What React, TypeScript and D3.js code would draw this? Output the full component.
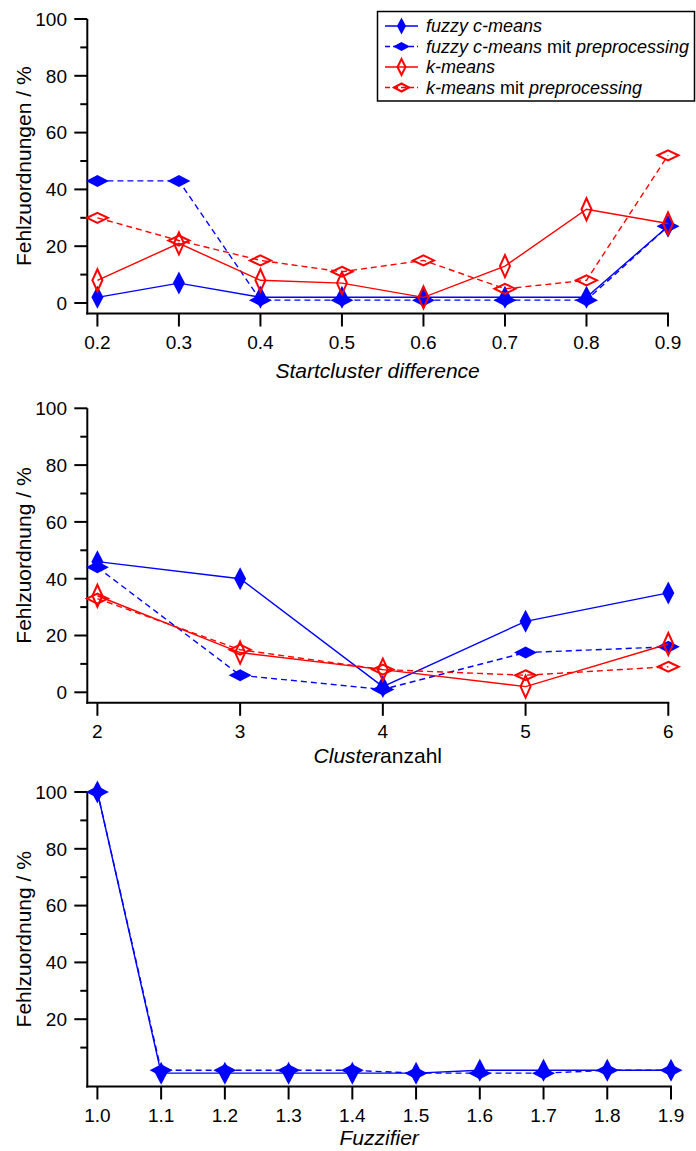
import React, { useEffect, useRef } from 'react';
import * as d3 from 'd3';

// panel 1: Startcluster difference
const startDiff = [0.2, 0.3, 0.4, 0.5, 0.6, 0.7, 0.8, 0.9];
const p1Fcm = [2, 7, 2, 2, 2, 2, 2, 27];
const p1FcmPre = [43, 43, 1, 1, 1, 1, 1, 27];
const p1Km = [8, 21, 8, 7, 2, 13, 33, 28];
const p1KmPre = [30, 22, 15, 11, 15, 5, 8, 52];

// panel 2: Clusteranzahl
const clusterCount = [2, 3, 4, 5, 6];
const p2Fcm = [46, 40, 2, 25, 35];
const p2FcmPre = [44, 6, 1, 14, 16];
const p2Km = [34, 14, 8, 2, 17];
const p2KmPre = [33, 15, 8, 6, 9];

// panel 3: Fuzzifier
const fuzzifier = [1.0, 1.1, 1.2, 1.3, 1.4, 1.5, 1.6, 1.7, 1.8, 1.9];
const p3Fcm = [100, 1, 1, 1, 1, 1, 2, 2, 2, 2];
const p3FcmPre = [100, 2, 2, 2, 2, 1, 1, 1, 2, 2];

const yMajor12 = [0, 20, 40, 60, 80, 100];
const yMajor3 = [20, 40, 60, 80, 100];
const yMinor = [10, 30, 50, 70, 90];

const BLUE = '#0000ff';
const RED = '#ff0000';
const FONT = "'Liberation Sans', Arial, sans-serif";

type Series = { values: number[]; color: string; dashed: boolean; filled: boolean };

const diamond = (w: number, h: number) =>
    `M0,${-h / 2}L${w / 2},0L0,${h / 2}L${-w / 2},0Z`;

const App = () => {
    const svgRef = useRef<SVGSVGElement>(null);

    useEffect(() => {
        document.body.style.margin = '0';
        const svg = d3.select(svgRef.current);
        svg.selectAll('*').remove();

        const panels = [
            {
                top: 19, xs: startDiff, fmt: d3.format('.1f'), xRight: 668, titleGap: 64,
                yTitle: 'Fehlzuordnungen / %', xTitle: 'Startcluster difference', xItalicAll: true,
                yMajor: yMajor12,
                series: [
                    { values: p1Fcm, color: BLUE, dashed: false, filled: true },
                    { values: p1FcmPre, color: BLUE, dashed: true, filled: true },
                    { values: p1Km, color: RED, dashed: false, filled: false },
                    { values: p1KmPre, color: RED, dashed: true, filled: false },
                ] as Series[],
            },
            {
                top: 408.3, xs: clusterCount, fmt: d3.format('d'), xRight: 668.3, titleGap: 60,
                yTitle: 'Fehlzuordnung / %', xTitle: 'Clusteranzahl', xItalicAll: false,
                yMajor: yMajor12,
                series: [
                    { values: p2Fcm, color: BLUE, dashed: false, filled: true },
                    { values: p2FcmPre, color: BLUE, dashed: true, filled: true },
                    { values: p2Km, color: RED, dashed: false, filled: false },
                    { values: p2KmPre, color: RED, dashed: true, filled: false },
                ] as Series[],
            },
            {
                top: 792, xs: fuzzifier, fmt: d3.format('.1f'), xRight: 671, titleGap: 58,
                yTitle: 'Fehlzuordnung / %', xTitle: 'Fuzzifier', xItalicAll: true,
                yMajor: yMajor3,
                series: [
                    { values: p3Fcm, color: BLUE, dashed: false, filled: true },
                    { values: p3FcmPre, color: BLUE, dashed: true, filled: true },
                ] as Series[],
            },
        ];

        const axisX = 87.3;
        const plotH = 284;

        panels.forEach(p => {
            const g = svg.append('g').attr('font-family', FONT);
            const y = d3.scaleLinear().domain([0, 100]).range([p.top + plotH, p.top]);
            const x = d3.scaleLinear().domain([p.xs[0], p.xs[p.xs.length - 1]]).range([97.4, p.xRight]);
            const axisY = y(0) + 10.5;

            // axis lines
            g.append('line').attr('x1', axisX).attr('x2', axisX)
                .attr('y1', y(100)).attr('y2', axisY + 1)
                .attr('stroke', '#000').attr('stroke-width', 2);
            g.append('line').attr('x1', axisX - 1).attr('x2', p.xRight + 1)
                .attr('y1', axisY).attr('y2', axisY)
                .attr('stroke', '#000').attr('stroke-width', 2);

            // y ticks
            g.selectAll('line.ymaj').data(p.yMajor).enter().append('line')
                .attr('x1', axisX - 13).attr('x2', axisX)
                .attr('y1', d => y(d)).attr('y2', d => y(d))
                .attr('stroke', '#000').attr('stroke-width', 2);
            g.selectAll('line.ymin').data(yMinor).enter().append('line')
                .attr('x1', axisX - 7).attr('x2', axisX)
                .attr('y1', d => y(d)).attr('y2', d => y(d))
                .attr('stroke', '#000').attr('stroke-width', 2);
            g.selectAll('text.ylab').data(p.yMajor).enter().append('text')
                .attr('x', 67).attr('y', d => y(d)).attr('dy', '0.36em')
                .attr('text-anchor', 'end').attr('font-size', 19).attr('fill', '#000')
                .text(d => String(d));

            // x ticks
            g.selectAll('line.xt').data(p.xs).enter().append('line')
                .attr('x1', d => x(d)).attr('x2', d => x(d))
                .attr('y1', axisY).attr('y2', axisY + 13)
                .attr('stroke', '#000').attr('stroke-width', 2);
            g.selectAll('text.xlab').data(p.xs).enter().append('text')
                .attr('x', d => x(d)).attr('y', axisY + 35)
                .attr('text-anchor', 'middle').attr('font-size', 19).attr('fill', '#000')
                .text(d => p.fmt(d));

            // axis titles
            g.append('text')
                .attr('transform', `translate(31,${(y(100) + axisY) / 2}) rotate(-90)`)
                .attr('text-anchor', 'middle').attr('font-size', 21).attr('fill', '#000')
                .text(p.yTitle);
            const xt = g.append('text')
                .attr('x', (axisX + p.xRight) / 2).attr('y', axisY + p.titleGap)
                .attr('text-anchor', 'middle').attr('font-size', 21).attr('fill', '#000');
            if (p.xItalicAll) {
                xt.attr('font-style', 'italic').text(p.xTitle);
            } else {
                xt.append('tspan').attr('font-style', 'italic').text('Cluster');
                xt.append('tspan').text('anzahl');
            }

            // series
            const line = d3.line<number>()
                .x((_, i) => x(p.xs[i]))
                .y(d => y(d));
            p.series.forEach(s => {
                g.append('path').attr('d', line(s.values) as string)
                    .attr('fill', 'none').attr('stroke', s.color).attr('stroke-width', 1.4)
                    .attr('stroke-dasharray', s.dashed ? '6,4' : null);
                const shape = s.filled
                    ? (s.dashed ? diamond(23, 12) : diamond(12, 23))
                    : (s.dashed ? diamond(21, 10) : diamond(10, 22));
                g.selectAll(null).data(s.values).enter().append('path')
                    .attr('d', shape)
                    .attr('transform', (d, i) => `translate(${x(p.xs[i])},${y(d)})`)
                    .attr('fill', s.filled ? s.color : 'none')
                    .attr('stroke', s.filled ? 'none' : s.color)
                    .attr('stroke-width', 2);
            });
        });

        // legend
        const legend = svg.append('g').attr('font-family', FONT).attr('font-size', 18);
        legend.append('rect')
            .attr('x', 377.5).attr('y', 11.5).attr('width', 317).attr('height', 89.5)
            .attr('fill', '#fff').attr('stroke', '#000').attr('stroke-width', 1.5);
        const entries = [
            { color: BLUE, dashed: false, filled: true, name: 'fuzzy c-means', pre: false },
            { color: BLUE, dashed: true, filled: true, name: 'fuzzy c-means', pre: true },
            { color: RED, dashed: false, filled: false, name: 'k-means', pre: false },
            { color: RED, dashed: true, filled: false, name: 'k-means', pre: true },
        ];
        entries.forEach((e, i) => {
            const cy = 26 + i * 20.5;
            legend.append('line').attr('x1', 385).attr('x2', 418).attr('y1', cy).attr('y2', cy)
                .attr('stroke', e.color).attr('stroke-width', 1.4)
                .attr('stroke-dasharray', e.dashed ? '5,3' : null);
            const shape = e.filled
                ? (e.dashed ? diamond(17, 9) : diamond(9, 17))
                : (e.dashed ? diamond(15, 8) : diamond(8, 16));
            legend.append('path').attr('d', shape)
                .attr('transform', `translate(401.5,${cy})`)
                .attr('fill', e.filled ? e.color : 'none')
                .attr('stroke', e.filled ? 'none' : e.color).attr('stroke-width', 2);
            const t = legend.append('text').attr('x', 426).attr('y', cy).attr('dy', '0.36em').attr('fill', '#000');
            t.append('tspan').attr('font-style', 'italic').text(e.name);
            if (e.pre) {
                t.append('tspan').text(' mit ');
                t.append('tspan').attr('font-style', 'italic').text('preprocessing');
            }
        });
    }, []);

    return (
        <div>
            <svg ref={svgRef} width={696} height={1151} style={{ display: 'block' }}></svg>
        </div>
    );
};

export default App;
